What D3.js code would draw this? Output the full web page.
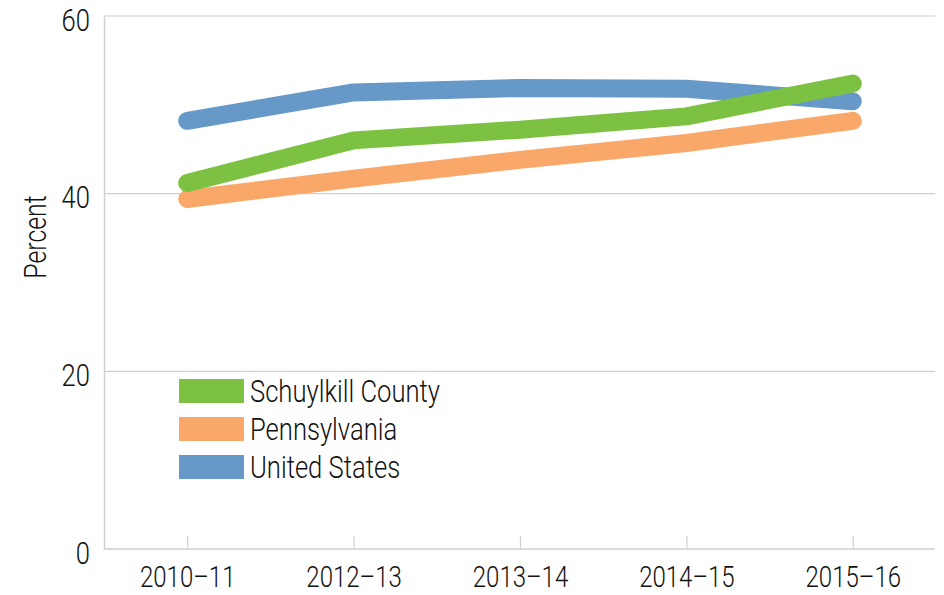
<!DOCTYPE html>
<html lang="en">
<head>
  <meta charset="UTF-8">
  <title>Percent by year</title>
  <script src="https://cdnjs.cloudflare.com/ajax/libs/d3/7.8.5/d3.min.js"></script>
  <style>
    body { margin: 0; background: #fff; }
    text { font-family: "Roboto", "Liberation Sans", sans-serif; font-weight: 300; fill: #111; }
  </style>
</head>
<body>
<div id="chart"></div>
<script>
    var years = ["2010–11", "2012–13", "2013–14", "2014–15", "2015–16"]
    var schuylkill = [41.2, 46.0, 47.2, 48.7, 52.4]
    var pennsylvania = [39.4, 41.7, 43.8, 45.7, 48.2]
    var unitedStates = [48.2, 51.4, 51.9, 51.8, 50.4]
    var yTicks = [0, 20, 40, 60]

    var series = [
        {name: "Schuylkill County", values: schuylkill, color: "#7dc142"},
        {name: "Pennsylvania", values: pennsylvania, color: "#f9a86a"},
        {name: "United States", values: unitedStates, color: "#6699c8"}
    ]

    var width = 944, height = 595
    var plotLeft = 104, plotRight = 936, plotTop = 16, plotBottom = 549
    var squeeze = 0.8   // fake a condensed face

    var svg = d3.select("#chart").append("svg")
        .attr("width", width)
        .attr("height", height)

    var x = d3.scalePoint().domain(years).range([plotLeft, plotRight]).padding(0.5)
    var y = d3.scaleLinear().domain([0, 60]).range([plotBottom, plotTop])

    function condense(sel) {
        sel.attr("transform", function() {
            var tx = +d3.select(this).attr("x") || 0
            return "translate(" + tx + ",0) scale(" + squeeze + ",1) translate(" + (-tx) + ",0)"
        })
    }

    // gridlines
    svg.selectAll(".grid")
        .data(yTicks.filter(d => d > 0))
        .enter().append("line")
        .attr("x1", plotLeft).attr("x2", 935)
        .attr("y1", d => y(d)).attr("y2", d => y(d))
        .style("stroke", "#cdd1cf")
        .style("stroke-width", 1.2)

    // y axis
    var yAxis = svg.append("g")
        .attr("transform", "translate(" + plotLeft + ",0)")
        .call(d3.axisLeft(y).tickValues(yTicks).tickSize(0).tickPadding(14))
    yAxis.select(".domain").style("stroke", "#cdd1cf").style("stroke-width", 1.5)
    yAxis.selectAll("text").style("font-size", "32px").attr("y", 3).attr("dy", "0.35em").call(condense)

    // x axis
    var xAxis = svg.append("g")
        .attr("transform", "translate(0," + plotBottom + ")")
        .call(d3.axisBottom(x).tickSize(0).tickPadding(17))
    xAxis.select(".domain").attr("d", "M" + plotLeft + ",0H935").style("stroke", "#cdd1cf").style("stroke-width", 1.5)
    xAxis.selectAll("text").style("font-size", "30px").call(condense)
    xAxis.selectAll(".tick").append("line")
        .attr("y1", 0).attr("y2", -13)
        .style("stroke", "#cdd1cf").style("stroke-width", 1.2)

    svg.append("text")
        .attr("transform", "translate(46,237) rotate(-90) scale(" + squeeze + ",1)")
        .attr("text-anchor", "middle")
        .style("font-size", "31px")
        .text("Percent")

    // lines: blue first, green on top
    var line = d3.line()
        .x((d, i) => x(years[i]))
        .y(d => y(d))

    series.slice().reverse().forEach(s => {
        svg.append("path")
            .attr("d", line(s.values))
            .style("fill", "none")
            .style("stroke", s.color)
            .style("stroke-width", 18)
            .style("stroke-linecap", "round")
            .style("stroke-linejoin", "round")
    })

    // legend
    var legend = svg.append("g").attr("transform", "translate(179,379)")
    series.forEach((s, i) => {
        legend.append("rect")
            .attr("x", 0).attr("y", i * 38)
            .attr("width", 65).attr("height", 24)
            .style("fill", s.color)
        legend.append("text")
            .attr("x", 71).attr("y", i * 38 + 23)
            .style("font-size", "32px")
            .text(s.name)
            .call(condense)
    })
</script>
</body>
</html>
